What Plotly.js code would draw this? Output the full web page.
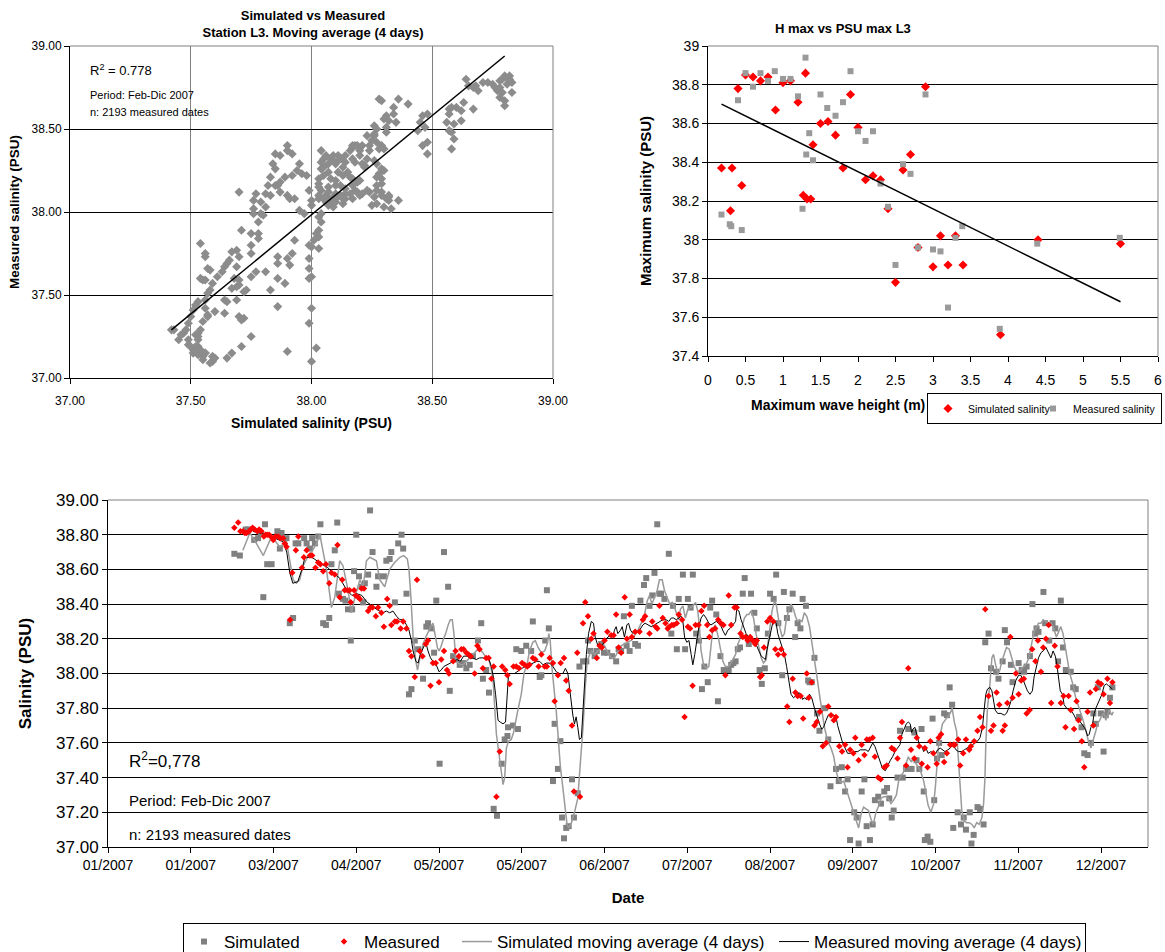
<!DOCTYPE html>
<html><head><meta charset="utf-8">
<script src="https://cdn.plot.ly/plotly-3.0.1.min.js"></script>
<style>html,body{margin:0;padding:0;background:#fff}#chart{width:1165px;height:952px}</style>
</head><body><div id="chart"></div>
<script>
// ---------- Top-left: Simulated vs Measured (moving average) ----------
const scatSim = [
38.64,38.65,38.67,38.68,38.69,38.67,38.63,38.62,38.60,38.58,38.57,38.57,38.59,38.57,38.58,38.59,38.58,38.56,38.62,38.71,
38.73,38.75,38.76,38.77,38.78,38.79,38.78,38.79,38.80,38.82,38.82,38.83,38.81,38.78,38.80,38.80,38.83,38.82,
38.46,38.48,38.45,38.44,38.47,38.46,38.48,38.48,38.40,38.36,38.34,38.34,38.35,38.32,38.31,38.28,38.29,38.30,38.31,38.31,
38.27,38.26,38.27,38.28,38.30,38.29,38.26,38.25,38.24,38.23,38.24,38.26,38.21,38.20,38.23,38.22,38.26,38.27,38.29,38.30,
38.28,38.27,38.29,38.29,38.27,38.27,38.24,38.26,38.29,38.29,38.31,38.32,38.32,38.33,38.36,38.32,38.25,38.30,38.27,
38.04,38.05,38.06,38.04,38.07,38.08,38.09,38.10,38.10,38.11,38.12,38.14,38.16,38.17,38.17,38.18,38.19,38.20,38.21,38.22,
38.18,38.17,38.14,38.13,38.15,38.16,38.17,38.19,38.20,38.17,38.18,38.19,38.20,38.21,38.23,38.14,38.12,38.10,38.09,38.08,
38.07,38.07,38.04,38.03,38.03,38.03,38.05,38.04,38.05,38.07,38.08,38.10,38.11,38.13,38.07,38.06,38.10,38.07,38.12,38.10,
38.09,38.10,38.13,38.13,38.14,38.16,38.17,38.14,38.03,38.03,38.05,38.06,38.04,38.03,38.04,38.03,38.03,38.02,38.03,38.01,
38.00,37.99,37.99,37.99,37.99,38.00,38.00,37.99,38.00,38.02,
37.90,37.90,37.92,37.95,37.94,37.96,37.98,37.97,37.99,38.00,38.00,37.92,37.89,37.87,37.86,37.87,37.90,37.91,37.93,37.95,
37.93,37.92,37.90,37.91,37.89,37.86,37.90,37.86,37.86,37.86,37.87,37.85,37.84,37.85,37.83,37.85,37.82,37.81,37.79,37.77,
37.76,37.76,37.76,37.78,37.78,37.78,37.75,37.75,37.75,37.75,37.77,37.81,37.83,37.80,37.81,37.79,37.83,
37.70,37.71,37.70,37.69,37.67,37.66,37.65,37.64,37.63,37.61,37.59,37.58,37.57,37.56,37.56,37.57,37.55,37.54,37.53,37.53,
37.52,37.53,37.53,37.54,37.55,37.56,37.59,37.59,37.60,37.65,37.67,37.71,37.75,37.56,37.56,37.57,37.58,37.56,37.55,37.54,
37.54,37.53,37.52,37.51,37.50,37.49,37.48,37.47,37.46,37.43,37.42,37.45,37.49,37.49,37.50,37.51,37.52,37.51,37.53,37.53,
37.55,37.58,37.56,37.57,37.60,37.64,37.64,37.65,37.67,37.68,37.69,37.69,37.70,37.70,37.71,37.72,37.73,37.72,37.70,37.69];
const scatMeas = [
38.80,38.76,38.75,38.76,38.73,38.62,38.66,38.61,38.63,38.63,38.62,38.59,38.53,38.49,38.48,38.44,38.38,38.54,38.55,38.78,
38.78,38.77,38.75,38.73,38.75,38.72,38.79,38.80,38.82,38.82,38.80,38.78,38.77,38.69,38.67,38.64,38.72,38.79,
38.58,38.59,38.54,38.49,38.51,38.40,38.35,38.42,38.65,38.68,38.63,38.59,38.54,38.55,38.58,38.68,38.67,38.56,38.51,38.48,
38.50,38.47,38.42,38.38,38.38,38.40,38.46,38.43,38.40,38.46,38.37,38.52,38.40,38.37,38.32,38.28,38.31,38.29,38.26,38.25,
38.23,38.21,38.20,38.17,38.16,38.13,38.12,38.09,38.12,38.10,38.08,38.09,38.07,38.02,38.07,38.10,38.04,38.03,38.05,
38.37,38.32,38.34,38.30,38.29,38.32,38.34,38.29,38.30,38.34,38.32,38.34,38.37,38.39,38.40,38.40,38.40,38.34,38.29,38.27,
38.30,38.32,38.30,38.27,38.24,38.21,38.20,38.18,38.19,38.16,38.13,38.12,38.10,38.11,38.13,38.14,38.10,38.08,38.09,38.06,
38.08,38.04,38.13,38.15,38.17,38.20,38.22,38.26,38.27,38.24,38.20,38.19,38.24,38.22,38.15,38.10,38.16,38.12,38.16,38.06,
38.03,38.11,38.08,38.05,38.11,38.11,38.08,38.08,38.10,38.08,38.08,38.06,37.99,37.97,37.94,37.89,37.78,37.87,37.85,37.83,
37.79,37.80,37.72,37.66,37.60,37.61,37.42,37.33,37.10,37.18,
38.40,38.37,38.35,38.29,38.25,38.23,38.22,37.99,38.13,38.07,38.04,38.22,38.21,38.18,38.16,38.12,38.10,38.08,38.08,38.01,
37.83,37.75,37.72,37.68,37.57,37.43,37.16,37.60,37.69,37.73,38.34,38.35,38.29,38.26,38.21,38.16,38.16,38.11,37.99,38.11,
38.07,38.02,37.99,37.94,37.87,37.84,37.87,37.80,37.75,37.61,37.64,37.64,37.53,37.98,38.03,38.06,38.10,
38.12,37.89,37.73,37.77,37.76,37.71,37.69,37.67,37.64,37.61,37.57,37.53,37.51,37.47,37.42,37.38,37.34,37.29,37.25,37.27,
37.26,37.23,37.19,37.17,37.13,37.15,37.10,37.13,37.12,37.12,37.15,37.19,37.25,37.75,37.73,37.66,37.65,37.59,37.59,37.60,
37.81,37.46,37.44,37.41,37.37,37.33,37.29,37.27,37.26,37.29,37.29,37.23,37.23,37.20,37.19,37.17,37.19,37.15,37.14,37.15,
37.11,37.09,37.15,37.37,37.40,37.47,37.39,37.46,37.54,37.60,37.55,37.47,37.56,37.37,37.35,37.36,37.53,37.52,37.59,37.67];
const fitSimX = [37.42, 38.80];
const fitMeasY = [37.29, 38.94];

// ---------- Top-right: H max vs PSU max L3 ----------
const hmaxSim = [0.18,0.32,0.30,0.45,0.40,0.50,0.60,0.70,0.80,0.90,1.00,1.10,1.20,1.30,1.27,1.32,1.37,1.40,1.50,1.60,
1.70,1.80,1.90,2.00,2.10,2.20,2.30,2.40,2.50,2.60,2.70,2.80,2.90,3.00,3.10,3.20,3.30,3.40,3.90,4.40,5.50];
const psuSim = [38.37,38.37,38.15,38.28,38.78,38.85,38.84,38.82,38.84,38.67,38.81,38.82,38.71,38.86,38.23,38.21,38.21,38.49,38.60,38.61,
38.54,38.37,38.75,38.58,38.31,38.33,38.31,38.16,37.78,38.36,38.44,37.96,38.79,37.86,38.02,37.87,38.02,37.87,37.51,38.00,37.98];
const hmaxMeas = [0.18,0.29,0.31,0.45,0.40,0.50,0.60,0.70,0.80,0.89,1.00,1.10,1.20,1.30,1.26,1.31,1.35,1.40,1.50,1.59,
1.70,1.80,1.90,2.00,2.10,2.20,2.30,2.40,2.50,2.60,2.70,2.80,2.90,3.00,3.10,3.20,3.30,3.39,3.89,4.39,5.49];
const psuMeas = [38.13,38.08,38.07,38.05,38.72,38.86,38.79,38.86,38.82,38.87,38.83,38.83,38.74,38.94,38.16,38.44,38.55,38.41,38.75,38.68,
38.64,38.71,38.87,38.56,38.51,38.56,38.29,38.17,37.87,38.39,38.34,37.96,38.75,37.95,37.94,37.65,38.01,38.07,37.54,37.98,38.01];
const fitHX = [0.18, 5.5];
const fitPsuY = [38.70, 37.68];

// ---------- Bottom: time series (x = days since 1 Jan 2007) ----------
const dateTickDays = [0,30,60,90,120,150,180,210,240,270,300,330,360];
const dateTickLabels = ['01/2007','01/2007','03/2007','04/2007','05/2007','05/2007','06/2007','07/2007','08/2007','09/2007','10/2007','11/2007','12/2007'];

const measDays = [
45.8,47.2,48.0,49.0,49.6,50.2,51.1,51.8,52.4,53.2,54.1,54.8,55.6,56.5,57.1,57.7,58.4,59.0,59.9,60.7,
61.7,62.5,63.5,64.1,64.7,66.0,66.8,68.1,69.0,70.3,71.0,72.0,73.2,74.0,75.2,76.2,77.0,78.0,79.0,80.2,
81.0,82.2,83.2,84.0,84.9,85.8,86.8,87.6,88.0,89.2,89.8,90.7,91.3,91.9,92.8,94.3,95.1,95.9,
97.1,97.9,99.1,100.0,101.2,102.1,102.7,104.0,104.8,106.1,107.0,108.2,109.1,110.0,111.2,112.0,113.0,114.0,115.2,116.0,
116.9,117.8,118.8,120.0,120.8,121.8,122.9,123.6,125.1,126.0,127.2,128.1,128.9,129.9,130.7,131.5,132.9,133.9,134.7,135.9,
137.1,138.0,139.0,139.8,140.8,142.0,142.9,144.0,144.8,145.6,147.0,148.0,149.0,
150.1,151.0,152.0,152.8,154.0,154.9,156.1,157.1,158.3,159.1,160.1,161.3,161.9,163.1,164.1,165.3,166.1,167.0,168.2,168.9,
170.1,171.1,172.2,173.0,174.0,175.2,176.0,177.2,178.2,179.0,180.0,181.0,182.4,183.3,184.2,185.1,186.0,187.3,188.1,189.1,
189.9,191.1,192.7,193.9,194.7,196.3,197.3,198.5,199.1,199.9,201.1,
202.1,202.9,203.5,204.4,205.1,206.2,206.9,208.1,209.0,210.2,211.0,211.9,213.0,214.1,215.1,216.1,217.2,218.0,219.0,220.1,
221.2,222.2,223.1,223.8,225.0,225.9,227.1,227.9,229.3,230.1,231.1,231.9,232.8,233.7,234.6,235.2,236.4,237.0,237.8,239.0,
240.0,241.2,241.9,242.9,244.0,245.0,246.2,247.0,248.2,249.2,250.0,251.1,252.0,253.3,254.0,
255.1,256.1,256.9,258.1,259.1,260.3,261.1,262.1,263.1,263.9,265.1,266.1,267.2,268.1,269.0,270.2,270.9,272.1,273.2,274.2,
275.1,276.0,277.2,278.0,279.2,280.1,281.4,282.3,284.1,285.0,286.2,287.1,287.8,289.3,290.1,291.1,292.3,293.2,294.1,295.0,
296.1,297.1,298.1,299.2,300.4,301.1,302.0,303.1,304.1,305.3,306.5,
307.0,308.2,308.9,310.0,311.0,312.2,312.8,314.0,315.2,316.1,317.0,318.0,319.2,320.1,321.0,322.1,323.1,324.3,325.1,326.0,
327.1,327.9,329.1,330.1,331.0,332.0,333.0,334.1,335.0,336.2,337.1,338.2,339.0,340.0,341.0,341.9,343.2,344.2,345.4,346.4,
347.1,348.2,349.0,350.2,351.1,351.8,353.0,353.9,355.1,356.0,357.2,358.1,358.9,360.0,360.9,362.3,363.2,364.1];
const measVals = [
38.84,38.87,38.82,38.82,38.81,38.81,38.82,38.83,38.84,38.83,38.82,38.83,38.82,38.79,38.80,38.80,38.80,38.79,38.77,38.79,
38.79,38.78,38.78,38.75,38.73,38.31,38.58,38.71,38.79,38.61,38.67,38.71,38.68,38.68,38.61,38.64,38.63,38.59,38.63,38.52,
38.58,38.57,38.74,38.44,38.54,38.48,38.48,38.48,38.41,38.48,38.45,38.44,38.43,38.49,38.49,38.36,38.38,38.38,
38.33,38.38,38.35,38.27,38.43,38.39,38.28,38.30,38.30,38.26,38.30,38.26,38.13,38.10,37.98,38.54,38.13,38.10,38.17,38.19,
37.93,38.06,38.06,37.95,38.08,38.13,38.02,38.00,38.07,38.13,38.10,38.14,38.14,38.12,38.11,38.10,38.00,38.16,38.14,38.03,
38.09,38.09,37.97,38.04,37.29,37.55,38.04,38.02,37.99,37.94,38.04,38.04,38.03,
38.06,38.05,38.04,38.05,38.09,38.08,38.04,38.11,38.04,38.04,38.09,38.06,37.84,37.99,38.06,38.09,37.96,37.90,37.70,37.32,
38.12,37.29,38.29,38.41,38.33,38.20,38.23,38.09,38.16,38.15,38.19,38.24,38.22,38.22,38.34,38.15,38.12,38.44,38.20,38.34,
38.21,38.24,38.24,38.31,38.33,38.23,38.30,38.27,38.26,38.39,38.32,
38.29,38.26,38.27,38.28,38.28,38.29,38.34,38.31,37.75,38.27,38.26,37.93,38.28,38.28,38.36,38.39,38.28,38.21,38.25,38.26,
38.31,38.29,38.28,37.99,38.45,38.28,38.38,38.38,38.23,38.21,38.21,38.19,38.21,38.19,38.17,38.19,37.98,37.99,38.15,38.30,
38.32,38.30,38.14,38.11,38.14,38.11,37.81,37.72,37.97,37.89,37.87,37.87,37.74,38.00,37.86,
37.95,37.70,37.72,37.78,37.58,37.60,37.81,37.76,37.73,37.75,37.58,37.55,37.59,37.46,37.56,37.54,37.63,37.50,37.59,37.53,
37.62,37.62,37.63,37.52,37.40,37.39,37.46,37.47,37.57,37.56,37.51,37.63,37.72,37.47,38.03,37.56,37.51,37.63,37.58,37.48,
37.57,37.46,37.61,37.54,37.48,37.63,37.65,37.49,37.54,37.59,37.59,
37.59,37.62,37.47,37.54,37.62,37.56,37.58,37.61,37.67,37.75,37.69,38.37,37.87,37.67,37.70,37.89,37.82,37.67,37.70,37.83,
38.21,37.86,38.00,37.88,37.96,37.97,37.77,37.79,38.14,38.07,38.19,38.01,38.15,38.20,38.28,37.83,38.16,38.04,37.83,37.87,
37.69,37.87,37.79,37.68,37.84,37.73,37.61,37.46,37.78,37.89,37.70,37.91,37.95,37.94,37.88,37.97,37.83,37.95];

const simDays = [
45.8,47.8,49.9,50.8,53.0,54.4,55.4,56.3,56.9,57.7,59.3,61.4,62.3,62.9,64.7,65.9,67.1,68.0,69.0,71.1,
72.0,73.2,74.0,75.0,76.2,77.0,78.0,79.0,80.2,81.0,82.2,83.1,83.7,85.2,86.1,87.0,88.0,88.5,89.2,90.0,
91.0,91.9,92.5,93.1,94.3,95.0,95.9,
97.3,97.9,100.0,100.9,102.1,102.7,104.0,105.2,106.4,107.0,108.2,109.1,110.0,111.2,112.4,114.2,115.4,116.0,117.2,118.2,
119.0,120.2,121.8,123.3,123.9,125.1,126.3,127.5,128.7,129.9,131.1,132.3,134.1,135.3,135.9,137.1,138.1,139.8,141.0,142.7,
143.8,144.8,145.0,146.8,148.0,148.6,
149.8,151.6,153.4,154.0,156.5,157.1,158.5,159.1,159.8,161.3,161.9,163.1,164.0,164.6,165.3,166.1,167.0,168.2,168.9,170.3,
170.9,172.2,173.4,174.0,174.9,176.4,177.2,178.8,179.8,181.0,182.7,184.2,185.1,186.0,187.0,188.0,189.1,189.9,191.1,192.1,
193.0,194.3,195.1,196.3,197.3,198.1,199.1,199.9,
200.5,201.7,203.3,204.2,204.8,206.2,206.9,208.4,209.2,210.2,211.2,212.0,213.2,214.2,215.3,216.2,217.4,218.3,219.0,220.5,
221.1,222.0,223.2,224.1,225.0,225.9,226.7,227.5,228.3,229.1,230.1,230.8,232.3,233.1,234.3,235.2,236.2,237.0,238.1,239.2,
240.0,241.3,242.2,243.0,244.4,245.0,246.1,247.0,248.2,249.1,250.0,251.0,251.8,253.0,253.8,
254.3,255.1,256.1,257.0,257.9,259.9,261.1,261.9,263.9,264.9,266.0,267.2,268.1,269.0,270.5,271.4,272.1,273.2,274.2,275.0,
276.2,277.2,278.0,279.2,280.2,281.4,282.4,283.2,284.1,284.8,286.2,287.1,288.1,289.3,290.1,291.3,292.3,293.1,294.1,294.9,
295.7,296.1,297.1,298.1,298.9,299.5,300.5,301.3,302.2,303.1,304.1,305.1,306.0,306.4,
308.0,309.2,310.2,311.0,312.4,313.0,313.8,315.2,316.1,317.4,318.0,319.2,320.1,321.9,322.8,324.3,325.1,325.9,327.3,327.9,
330.1,331.2,332.1,333.0,334.2,335.1,336.1,336.6,337.3,339.1,339.7,341.2,342.4,343.4,344.4,345.4,346.2,347.2,349.0,349.9,
350.8,352.0,352.9,353.9,355.1,356.3,357.2,358.1,358.8,359.9,360.9,361.7,362.3,363.2,364.1];
const simVals = [
38.69,38.68,38.83,38.83,38.77,38.78,38.81,38.44,38.86,38.63,38.63,38.82,38.72,38.81,38.78,38.29,38.32,38.75,38.75,38.78,
38.75,38.72,38.78,38.75,38.79,38.86,38.29,38.28,38.32,38.63,38.71,38.87,38.46,38.43,38.42,38.37,38.19,38.37,38.59,38.80,
38.56,38.50,38.41,38.52,38.57,38.94,38.70,
38.50,38.56,38.56,38.65,38.66,38.70,38.41,38.75,38.80,38.72,38.46,37.88,37.91,38.19,38.14,37.97,38.27,38.29,38.26,38.12,
38.42,37.48,38.70,38.50,37.90,38.10,38.08,38.05,38.06,38.03,38.05,38.10,38.19,38.29,37.97,38.02,37.89,37.22,37.18,37.48,
37.62,37.64,37.69,37.70,38.14,37.68,
38.13,38.16,38.13,38.30,37.98,37.99,38.19,38.48,38.26,37.38,37.71,37.45,37.61,37.17,37.05,37.11,37.12,37.39,37.17,37.31,
38.04,38.07,38.07,38.19,38.13,38.10,38.13,38.17,38.12,38.12,38.10,38.07,38.14,38.13,38.33,38.16,38.13,38.39,38.17,38.16,
38.42,38.51,38.55,38.39,38.45,38.58,38.86,38.46,
38.46,38.43,38.69,38.23,38.39,38.14,38.43,38.57,38.14,38.43,38.38,38.57,38.23,38.19,37.91,38.04,37.95,38.38,38.42,38.34,
37.84,38.10,38.02,38.02,38.02,38.05,38.06,38.07,38.14,38.15,38.46,38.55,38.17,38.46,38.35,38.26,38.02,37.94,38.03,38.23,
38.46,38.43,38.57,38.29,37.99,38.47,38.32,38.37,38.46,38.21,38.29,38.26,38.43,38.39,37.96,
37.95,37.95,38.09,37.77,37.67,37.80,37.62,37.35,37.45,37.38,37.46,37.32,37.39,37.04,37.20,37.17,37.02,37.32,37.39,37.12,
37.04,37.13,37.27,37.29,37.25,37.32,37.34,37.28,37.17,37.21,37.40,37.67,37.40,37.45,37.68,37.45,37.66,37.50,37.45,37.68,
37.32,37.04,37.06,37.03,37.74,37.27,37.51,37.60,37.53,37.77,37.76,37.92,37.82,37.11,
37.20,37.13,37.17,37.10,37.20,37.02,37.07,37.23,37.22,37.13,38.18,38.23,38.03,38.01,37.97,38.07,38.25,38.18,38.05,37.95,
38.06,38.02,38.01,38.04,38.10,38.40,38.23,38.26,38.24,38.47,38.29,38.19,38.29,38.26,38.07,38.42,38.15,38.02,38.01,37.92,
37.91,37.75,37.69,37.54,37.53,37.60,37.77,37.71,37.92,37.77,37.55,37.76,37.78,37.86,37.92];

const simMaDays = [
48.9,51.4,53.8,56.3,59.3,62.3,64.7,67.1,68.3,69.5,70.7,72.0,73.8,75.6,76.8,78.0,79.2,81.0,82.2,84.0,
85.2,87.0,88.3,89.5,91.3,92.5,93.7,94.9,97.3,98.5,100.3,102.1,103.9,105.8,107.2,108.5,109.1,109.8,110.6,111.6,
112.2,112.8,113.6,114.2,115.2,116.0,117.0,117.8,118.7,119.4,120.0,120.6,121.4,122.4,123.3,124.1,124.8,125.4,126.0,126.9,
127.8,128.7,129.9,131.1,132.3,133.5,134.7,135.9,137.1,138.1,139.0,139.6,140.2,140.8,141.7,142.6,143.2,143.8,144.4,145.2,
146.2,147.0,148.0,148.6,149.8,150.8,152.0,152.8,154.0,154.9,155.9,157.1,158.3,159.2,159.8,160.3,160.9,161.7,162.5,163.3,
164.0,164.9,165.8,166.4,167.0,168.0,169.1,170.3,171.3,172.2,173.0,173.7,174.6,175.4,176.4,177.6,178.8,180.0,181.2,182.4,
183.6,184.8,186.0,187.2,188.5,189.7,190.9,192.1,193.3,194.5,195.5,196.3,197.2,198.1,199.1,199.9,200.9,201.7,202.6,203.6,
204.5,205.4,206.2,206.9,207.5,208.4,209.3,210.2,211.0,212.0,213.0,213.8,214.4,215.0,215.9,216.8,217.8,218.6,219.2,220.1,
221.1,221.9,222.9,223.8,224.7,225.5,226.5,227.5,228.3,228.9,229.5,230.1,230.7,231.6,232.3,233.1,234.0,234.9,235.9,236.8,
237.6,238.6,239.2,239.8,240.7,241.6,242.2,242.8,243.6,244.4,245.2,245.8,246.8,247.6,248.5,249.2,250.0,250.6,251.6,252.4,
253.3,254.3,254.9,255.5,256.3,257.0,257.9,258.7,259.7,260.9,262.1,263.1,263.9,264.8,265.7,266.7,267.5,268.7,269.9,271.2,
272.1,273.0,273.9,274.8,275.7,276.6,277.4,278.4,279.2,280.2,281.2,282.0,282.9,283.8,284.8,285.8,286.6,287.4,288.3,289.3,
290.1,290.8,291.3,292.0,292.9,293.7,294.7,295.7,296.5,297.3,298.3,299.3,299.9,300.4,301.0,301.7,302.5,303.4,304.4,305.3,
306.0,306.8,307.6,308.3,308.8,309.5,310.4,311.2,312.2,313.2,314.0,314.9,315.8,316.8,317.4,317.9,318.2,318.8,319.7,320.4,
321.0,321.9,322.7,323.3,324.0,324.9,325.7,326.7,327.5,328.5,329.1,330.1,330.9,331.8,332.7,333.6,334.3,335.1,335.7,336.4,
337.3,338.2,339.0,340.0,341.0,341.8,342.6,343.4,343.8,344.6,345.4,346.2,347.2,348.2,349.0,349.9,350.8,351.8,352.6,353.5,
354.5,355.4,356.3,357.1,358.1,358.7,359.5,360.3,361.1,361.7,362.3,362.9,363.9,364.4];
const simMaVals = [
38.71,38.81,38.75,38.68,38.79,38.73,38.76,38.54,38.52,38.54,38.62,38.66,38.70,38.75,38.80,38.71,38.60,38.38,38.44,38.65,
38.62,38.48,38.35,38.44,38.54,38.50,38.65,38.67,38.65,38.54,38.50,38.60,38.64,38.67,38.68,38.66,38.60,38.44,38.21,38.07,
38.02,38.07,38.13,38.17,38.21,38.24,38.27,38.29,38.21,38.15,38.13,38.15,38.19,38.23,38.28,38.31,38.31,38.23,38.09,38.06,
38.05,38.05,38.07,38.09,38.11,38.13,38.14,38.12,38.09,38.08,38.02,37.96,37.80,37.65,37.54,37.44,37.36,37.40,37.57,37.61,
37.62,37.66,37.75,37.79,37.88,38.00,38.06,38.13,38.18,38.19,38.15,38.12,38.13,38.17,38.23,38.19,38.04,37.92,37.78,37.61,
37.46,37.34,37.23,37.13,37.11,37.14,37.20,37.28,37.50,37.69,37.92,38.07,38.11,38.13,38.11,38.13,38.14,38.16,38.12,38.09,
38.09,38.13,38.16,38.17,38.18,38.19,38.22,38.25,38.29,38.34,38.42,38.45,38.40,38.44,38.48,38.54,38.54,38.48,38.44,38.40,
38.41,38.38,38.34,38.31,38.37,38.39,38.32,38.37,38.38,38.39,38.41,38.36,38.27,38.13,38.05,38.03,38.04,38.15,38.25,38.28,
38.22,38.15,38.07,38.04,38.04,38.05,38.08,38.11,38.17,38.19,38.25,38.29,38.32,38.34,38.34,38.36,38.32,38.23,38.15,38.09,
38.06,38.08,38.17,38.25,38.36,38.42,38.40,38.34,38.26,38.21,38.23,38.30,38.37,38.40,38.37,38.33,38.30,38.31,38.30,38.35,
38.33,38.27,38.21,38.15,38.07,37.98,37.88,37.79,37.69,37.61,37.57,37.52,37.44,37.39,37.37,37.38,37.34,37.28,37.21,37.15,
37.11,37.19,37.23,37.22,37.21,37.16,37.13,37.20,37.23,37.28,37.29,37.29,37.28,37.25,37.27,37.30,37.38,37.41,37.43,37.48,
37.52,37.50,37.49,37.52,37.48,37.46,37.43,37.38,37.30,37.24,37.20,37.25,37.34,37.46,37.57,37.65,37.71,37.73,37.75,37.77,
37.80,37.72,37.67,37.50,37.40,37.21,37.15,37.14,37.14,37.13,37.11,37.14,37.13,37.17,37.25,37.40,37.59,37.80,37.94,38.09,
38.11,38.04,38.00,38.02,38.07,38.11,38.15,38.14,38.09,38.04,38.02,38.01,38.02,38.04,38.05,38.08,38.13,38.19,38.24,38.26,
38.29,38.29,38.31,38.30,38.29,38.29,38.27,38.23,38.21,38.24,38.27,38.23,38.13,38.04,37.98,37.93,37.86,37.81,37.78,37.73,
37.67,37.61,37.57,37.61,37.67,37.71,37.73,37.76,37.77,37.73,37.76,37.79,37.76,37.78];

const measMaDays = [
52.5,55.0,57.6,60.5,63.4,64.8,65.9,67.0,68.8,70.3,71.4,73.9,75.5,77.5,79.7,81.5,84.0,86.6,88.4,90.2,
92.0,94.0,95.9,97.3,98.5,99.7,100.9,102.1,103.3,104.6,105.8,107.0,108.2,109.1,110.0,110.6,111.6,112.4,113.2,114.2,
115.2,116.0,116.9,117.8,119.0,120.0,120.8,121.7,122.9,124.1,125.3,126.5,127.7,128.9,130.1,131.1,132.3,133.5,134.7,135.9,
137.1,138.1,139.0,139.8,140.5,141.4,142.2,143.2,144.1,144.8,145.2,146.2,147.4,149.2,151.0,152.8,154.0,155.3,156.5,157.7,
158.9,160.1,161.3,162.5,163.7,164.9,165.8,166.7,167.3,167.9,168.5,169.1,169.7,170.3,170.9,171.6,172.2,172.8,173.4,174.2,
175.2,176.0,176.6,177.6,178.6,179.4,180.2,181.2,182.2,183.0,183.6,184.2,184.8,185.8,186.4,187.2,188.1,188.7,189.4,190.3,
191.1,191.8,192.7,193.9,194.7,195.7,196.9,198.1,199.1,199.9,201.1,202.3,203.3,204.2,205.0,206.0,206.9,207.8,208.4,209.0,
209.8,210.6,211.4,212.0,212.7,213.5,214.2,215.0,215.9,216.8,217.8,218.6,219.5,220.5,221.3,222.3,223.1,223.8,224.7,225.5,
226.5,227.5,227.9,228.7,229.5,230.4,231.3,232.3,233.1,234.0,234.9,235.9,236.8,237.6,238.3,238.8,239.5,240.4,241.2,242.2,
242.8,243.6,244.4,245.2,246.0,246.8,247.6,248.5,249.2,249.7,250.4,251.2,251.8,252.4,253.3,254.3,255.1,256.1,257.0,257.9,
258.7,259.4,260.3,261.1,262.1,263.1,263.9,264.5,265.5,266.3,267.2,268.1,269.1,269.9,270.8,271.8,272.7,273.7,274.8,275.6,
276.3,277.2,278.0,279.0,280.0,280.8,281.8,282.6,283.6,284.4,285.3,286.2,287.1,287.8,288.7,289.4,290.1,290.8,291.3,291.8,
292.5,292.9,293.5,294.1,295.0,295.7,296.5,297.3,298.3,299.3,300.1,300.7,301.7,302.5,303.4,304.4,305.3,306.2,307.4,308.3,
309.5,310.4,311.6,312.4,313.4,314.4,315.2,316.1,317.0,317.6,318.2,318.8,319.7,320.4,321.0,321.6,322.5,323.7,324.9,325.7,
326.5,327.3,328.1,329.1,330.1,330.9,331.8,332.5,333.3,334.2,335.1,335.7,336.6,337.3,338.2,339.0,340.0,340.6,341.2,341.8,
342.6,343.4,343.8,344.6,345.2,346.0,346.6,347.5,348.4,349.4,350.2,351.1,352.0,353.0,353.9,354.5,355.1,355.7,356.3,356.9,
357.5,358.1,359.3,360.3,361.1,361.9,362.7,363.5,364.1];
const measMaVals = [
38.82,38.81,38.80,38.78,38.76,38.70,38.58,38.52,38.53,38.60,38.67,38.67,38.65,38.63,38.61,38.58,38.55,38.48,38.45,38.46,
38.45,38.41,38.39,38.37,38.36,38.35,38.36,38.35,38.36,38.33,38.31,38.31,38.28,38.25,38.19,38.13,38.07,38.06,38.11,38.15,
38.18,38.13,38.09,38.07,38.05,38.01,38.02,38.04,38.05,38.06,38.07,38.08,38.07,38.10,38.10,38.09,38.09,38.08,38.09,38.09,
38.08,38.08,38.04,37.97,37.88,37.73,37.72,37.71,37.72,37.88,38.00,38.00,38.00,38.02,38.04,38.05,38.06,38.07,38.07,38.05,
38.06,38.06,38.04,38.01,38.00,38.00,38.03,38.00,37.92,37.83,37.76,37.71,37.75,37.69,37.62,37.63,37.77,37.92,38.11,38.23,
38.30,38.29,38.21,38.16,38.16,38.17,38.19,38.21,38.22,38.21,38.25,38.27,38.23,38.25,38.27,38.21,38.28,38.29,38.25,38.23,
38.25,38.24,38.25,38.28,38.29,38.28,38.27,38.28,38.29,38.30,38.31,38.31,38.30,38.32,38.32,38.31,38.32,38.33,38.30,38.21,
38.18,38.19,38.11,38.05,38.11,38.21,38.27,38.32,38.34,38.32,38.29,38.28,38.29,38.30,38.29,38.27,38.24,38.22,38.25,38.26,
38.28,38.30,38.37,38.36,38.31,38.27,38.23,38.21,38.21,38.20,38.17,38.13,38.10,38.09,38.08,38.13,38.19,38.25,38.31,38.29,
38.23,38.19,38.15,38.11,38.04,37.95,37.88,37.86,37.87,37.86,37.89,37.88,37.85,37.86,37.85,37.88,37.86,37.80,37.75,37.71,
37.68,37.69,37.73,37.76,37.77,37.76,37.75,37.70,37.65,37.60,37.57,37.54,37.54,37.54,37.55,37.55,37.56,37.56,37.56,37.55,
37.57,37.60,37.58,37.53,37.48,37.45,37.44,37.47,37.50,37.52,37.55,37.57,37.59,37.65,37.69,37.71,37.72,37.71,37.66,37.68,
37.69,37.66,37.62,37.59,37.58,37.55,37.57,37.54,37.55,37.54,37.54,37.56,37.57,37.56,37.55,37.56,37.57,37.59,37.56,37.55,
37.55,37.56,37.57,37.58,37.59,37.60,37.61,37.63,37.69,37.79,37.88,37.91,37.92,37.90,37.84,37.79,37.77,37.77,37.76,37.77,
37.80,37.84,37.90,37.96,37.99,37.99,37.96,37.93,37.90,37.88,37.90,37.98,38.04,38.09,38.12,38.13,38.15,38.13,38.11,38.09,
38.13,38.10,38.07,37.98,37.90,37.88,37.82,37.80,37.79,37.78,37.76,37.73,37.73,37.71,37.69,37.67,37.64,37.65,37.69,37.71,
37.77,37.80,37.84,37.88,37.93,37.94,37.93,37.92,37.91];

// ---------- Layout helpers ----------
const W = 1165, H = 952;
const px = v => v / W;
const py = v => 1 - v / H;
const FONT = 'Arial, "Liberation Sans", sans-serif';

const traces = [
  {type:'scatter', mode:'markers', x:scatSim, y:scatMeas, xaxis:'x', yaxis:'y', showlegend:false,
   marker:{symbol:'diamond', size:7, color:'#8c8c8c'}, hoverinfo:'skip'},
  {type:'scatter', mode:'lines', x:fitSimX, y:fitMeasY, xaxis:'x', yaxis:'y', showlegend:false,
   line:{color:'#000', width:1.5}, hoverinfo:'skip'},

  {type:'scatter', mode:'markers', name:'Simulated salinity', x:hmaxSim, y:psuSim, xaxis:'x2', yaxis:'y2', legend:'legend',
   legendwidth:60, marker:{symbol:'diamond', size:7, color:'#ff0000'}},
  {type:'scatter', mode:'markers', name:'Measured salinity', x:hmaxMeas, y:psuMeas, xaxis:'x2', yaxis:'y2', legend:'legend',
   marker:{symbol:'square', size:6, color:'#9a9a9a'}},
  {type:'scatter', mode:'lines', x:fitHX, y:fitPsuY, xaxis:'x2', yaxis:'y2', showlegend:false,
   line:{color:'#000', width:1.5}},

  {type:'scatter', mode:'markers', name:'Simulated', x:simDays, y:simVals, xaxis:'x3', yaxis:'y3', legend:'legend2', legendrank:1,
   legendwidth:95, marker:{symbol:'square', size:6, color:'#808080'}},
  {type:'scatter', mode:'lines', name:'Simulated moving average (4 days)', x:simMaDays, y:simMaVals, xaxis:'x3', yaxis:'y3', legend:'legend2', legendrank:3,
   legendwidth:272, line:{color:'#9a9a9a', width:1.5}},
  {type:'scatter', mode:'lines', name:'Measured moving average (4 days)', x:measMaDays, y:measMaVals, xaxis:'x3', yaxis:'y3', legend:'legend2', legendrank:4,
   legendwidth:266, line:{color:'#000', width:1}},
  {type:'scatter', mode:'markers', name:'Measured', x:measDays, y:measVals, xaxis:'x3', yaxis:'y3', legend:'legend2', legendrank:2,
   legendwidth:88, marker:{symbol:'diamond', size:5, color:'#ff0000'}}
];

const axBase = {zeroline:false, showline:true, linecolor:'#000', linewidth:1, ticks:'outside', ticklen:5,
  tickcolor:'#000', automargin:false, fixedrange:true};

function frame(xr, yr) {
  return [
    {type:'line', xref:xr+' domain', yref:yr+' domain', x0:0, x1:1, y0:1, y1:1, line:{color:'#808080', width:1}, layer:'above'},
    {type:'line', xref:xr+' domain', yref:yr+' domain', x0:1, x1:1, y0:0, y1:1, line:{color:'#808080', width:1}, layer:'above'}
  ];
}

const layout = {
  width:W, height:H, margin:{l:0, r:0, t:0, b:0, autoexpand:false},
  paper_bgcolor:'#fff', plot_bgcolor:'#fff',
  font:{family:FONT, color:'#000', size:12},
  title:{text:'<b>Simulated vs Measured</b><br><b>Station L3. Moving average (4 days)</b>', x:px(313), xanchor:'center',
         y:py(20), yanchor:'middle', font:{size:13}},
  xaxis:Object.assign({}, axBase, {domain:[px(70), px(553)], anchor:'y', range:[37,39], tick0:37, dtick:0.5, tickformat:'.2f',
    showgrid:true, gridcolor:'#808080', tickfont:{size:12}, ticklabelstandoff:7,
    title:{text:'<b>Simulated salinity (PSU)</b>', font:{size:14}, standoff:10}}),
  yaxis:Object.assign({}, axBase, {domain:[py(378), py(46)], anchor:'x', range:[37,39], tick0:37, dtick:0.5, tickformat:'.2f',
    showgrid:true, gridcolor:'#000', tickfont:{size:12},
    title:{text:'<b>Measured salinity (PSU)</b>', font:{size:13.5}, standoff:8}}),
  xaxis2:Object.assign({}, axBase, {domain:[px(708), px(1158)], anchor:'y2', range:[0,6], tick0:0, dtick:0.5,
    showgrid:false, tickfont:{size:14}, ticklabelstandoff:6}),
  yaxis2:Object.assign({}, axBase, {domain:[py(356), py(46)], anchor:'x2', range:[37.4,39], tick0:37.4, dtick:0.2,
    showgrid:true, gridcolor:'#000', tickfont:{size:14},
    title:{text:'<b>Maximum salinity (PSU)</b>', font:{size:15}, standoff:16}}),
  xaxis3:Object.assign({}, axBase, {domain:[px(108), px(1148)], anchor:'y3', range:[0,377], tickmode:'array',
    tickvals:dateTickDays, ticktext:dateTickLabels, showgrid:false, tickfont:{size:14},
    title:{text:'<b>Date</b>', font:{size:15}, standoff:20}}),
  yaxis3:Object.assign({}, axBase, {domain:[py(847), py(500)], anchor:'x3', range:[37,39], tick0:37, dtick:0.2, tickformat:'.2f',
    showgrid:true, gridcolor:'#000', tickfont:{size:17},
    title:{text:'<b>Salinity (PSU)</b>', font:{size:17}, standoff:20}}),
  legend:{x:px(1162), y:py(393), xanchor:'right', yanchor:'top', orientation:'h', bgcolor:'#fff',
    bordercolor:'#000', borderwidth:1, font:{size:10.5}, itemwidth:30},
  legend2:{x:px(183), y:py(923), xanchor:'left', yanchor:'top', orientation:'h', bgcolor:'#fff',
    bordercolor:'#000', borderwidth:1, font:{size:17}, itemwidth:30},
  annotations:[
    {text:'<b>H max vs PSU max L3</b>', xref:'paper', yref:'paper', x:px(843), y:py(28), xanchor:'center', yanchor:'middle', showarrow:false, font:{size:13}},
    {text:'<b>Maximum wave height (m)</b>', xref:'paper', yref:'paper', x:px(838), y:py(405), xanchor:'center', yanchor:'middle', showarrow:false, font:{size:14}},
    {text:'R<sup>2</sup> = 0.778', xref:'paper', yref:'paper', x:px(88), y:py(70), xanchor:'left', yanchor:'middle', showarrow:false, font:{size:13}},
    {text:'Period: Feb-Dic 2007', xref:'paper', yref:'paper', x:px(88), y:py(95), xanchor:'left', yanchor:'middle', showarrow:false, font:{size:11}},
    {text:'n: 2193 measured dates', xref:'paper', yref:'paper', x:px(88), y:py(112), xanchor:'left', yanchor:'middle', showarrow:false, font:{size:11}},
    {text:'R<sup>2</sup>=0,778', xref:'paper', yref:'paper', x:px(127), y:py(760), xanchor:'left', yanchor:'middle', showarrow:false, font:{size:17}},
    {text:'Period: Feb-Dic 2007', xref:'paper', yref:'paper', x:px(127), y:py(800), xanchor:'left', yanchor:'middle', showarrow:false, font:{size:15}},
    {text:'n: 2193 measured dates', xref:'paper', yref:'paper', x:px(127), y:py(834), xanchor:'left', yanchor:'middle', showarrow:false, font:{size:15}}
  ],
  shapes:[].concat(frame('x','y'), frame('x2','y2'), frame('x3','y3')),
  showlegend:true
};

Plotly.newPlot('chart', traces, layout, {displayModeBar:false, staticPlot:true});
</script></body></html>
